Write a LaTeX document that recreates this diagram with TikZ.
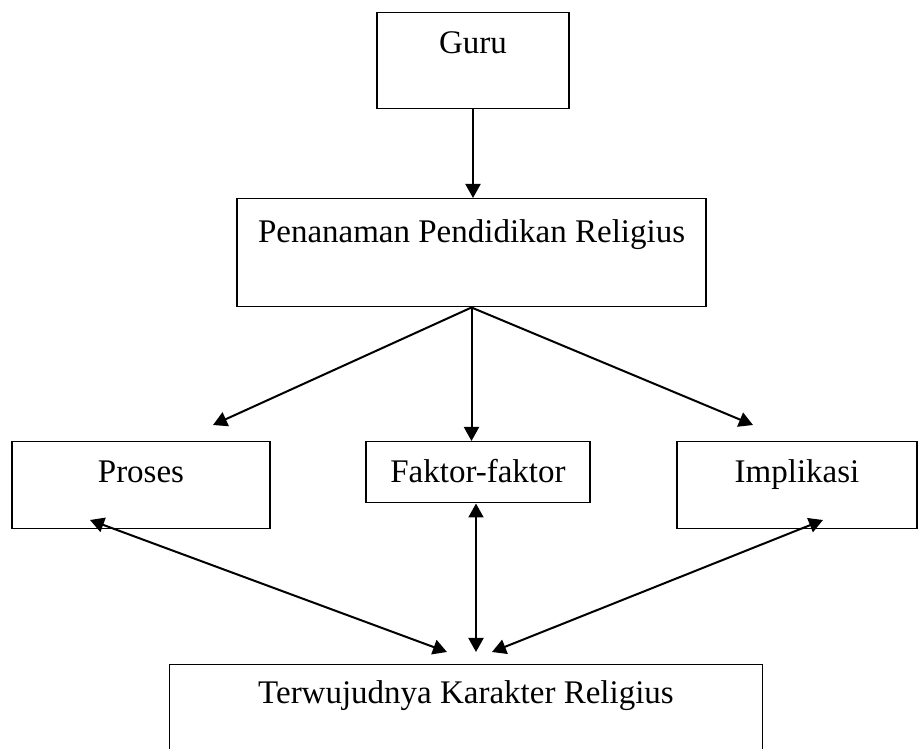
\documentclass[tikz,border=0pt]{standalone}
\usepackage{fontspec}
\setmainfont{Liberation Serif}
\usetikzlibrary{arrows.meta,positioning}

\begin{document}
\begin{tikzpicture}[x=0.5pt,y=-0.5pt,
    every node/.style={draw, line width=0.75pt, anchor=north, inner ysep=0pt,
      font=\fontsize{16.5}{20}\selectfont},
    arr/.style={-{Triangle[length=7pt,width=7.5pt]}, line width=1pt},
    dbl/.style={{Triangle[length=7pt,width=7.5pt]}-{Triangle[length=7pt,width=7.5pt]}, line width=1pt}]
    \clip (0,0) rectangle (918,749);

    % kotak-kotak
    \node (guru) at (473,12) [minimum width=96pt, text height=20.5pt, text depth=27.5pt] {Guru};
    \node (pen) at (471.5,198) [inner xsep=10.5pt, text height=22pt, text depth=32pt]
      {\makebox[213.5pt][l]{Penanaman Pendidikan Religius}};
    \node (proses) at (141,441) [minimum width=129pt, text height=20.5pt, text depth=23pt] {Proses};
    \node (faktor) at (478,441) [minimum width=112pt, text height=20.5pt, text depth=10pt] {Faktor-faktor};
    \node (impl) at (797,441) [minimum width=120pt, text height=20.5pt, text depth=23pt] {Implikasi};
    \node (hasil) at (466,664) [minimum width=296.5pt, text height=19.5pt, text depth=45pt] {Terwujudnya Karakter Religius};

    % ujung panah
    \coordinate (t-proses) at (213,425);
    \coordinate (t-impl) at (753,425);
    \coordinate (b-proses) at (90,520);
    \coordinate (b-impl) at (823,520);
    \coordinate (h-kiri) at (447,652);
    \coordinate (h-tengah) at (476,652);
    \coordinate (h-kanan) at (492,652);

    \draw[arr] (guru.south) -- (pen.north -| guru.south);
    \draw[arr] (pen.south) -- (t-proses);
    \draw[arr] (pen.south) -- (faktor.north -| pen.south);
    \draw[arr] (pen.south) -- (t-impl);

    \draw[dbl] (b-proses) -- (h-kiri);
    \draw[dbl] (faktor.south -| h-tengah) -- (h-tengah);
    \draw[dbl] (b-impl) -- (h-kanan);
\end{tikzpicture}
\end{document}
